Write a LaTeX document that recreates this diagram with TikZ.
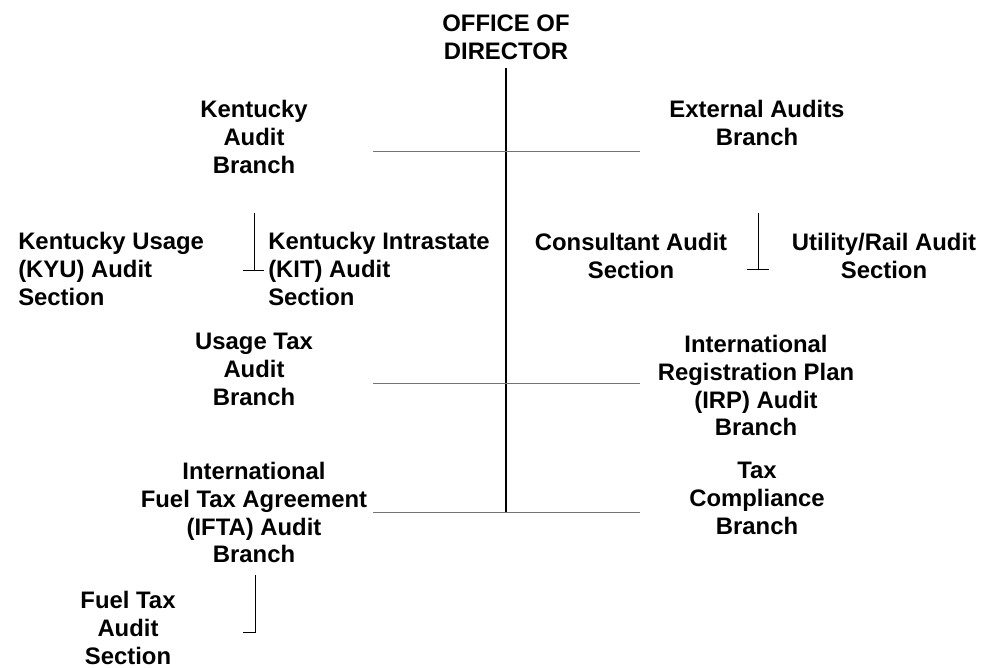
\documentclass[tikz,border=0pt]{standalone}
\usepackage{fontspec}
\setmainfont{Liberation Sans}
\usetikzlibrary{positioning}

\begin{document}
\begin{tikzpicture}[x=0.75pt, y=-0.75pt,
  unit/.style={font=\bfseries\fontsize{17.9}{20.8}\selectfont, align=center, anchor=north, inner sep=0pt},
  section/.style={unit, align=left, anchor=north west},
  bar/.style={draw=black!55, line width=0.75pt},
  tick/.style={draw, line width=0.75pt}]
  \useasboundingbox (0,0) rectangle (986,668);

  % director and trunk
  \node[unit] (director) at (506,15) {OFFICE OF\\DIRECTOR};
  \coordinate (trunk top) at (506,68);
  \coordinate (trunk end) at (506,512);
  \draw[line width=1.5pt] (trunk top) -- (trunk end);

  % branches
  \node[unit] (kab) at (254,100) {Kentucky\\Audit\\Branch};
  \node[unit] (eab) at (757,100) {External Audits\\Branch};
  \node[unit] (utab) at (254,333) {Usage Tax\\Audit\\Branch};
  \node[unit] (irp) at (756,335) {International\\Registration Plan\\(IRP) Audit\\Branch};
  \node[unit] (ifta) at (254,462) {International\\Fuel Tax Agreement\\(IFTA) Audit\\Branch};
  \node[unit] (tcb) at (757,462) {Tax\\Compliance\\Branch};

  % sections
  \node[section] (kyu) at (18,232) {Kentucky Usage\\(KYU) Audit\\Section};
  \node[section] (kit) at (268,232) {Kentucky Intrastate\\(KIT) Audit\\Section};
  \node[unit] (cas) at (631,233) {Consultant Audit\\Section};
  \node[unit] (ura) at (884,233) {Utility/Rail Audit\\Section};
  \node[unit] (ftas) at (128,591) {Fuel Tax\\Audit\\Section};

  % cross bars on the trunk
  \foreach \n/\y in {kab/151, utab/383, ifta/512} {
    \coordinate (\n w) at (373,\y);
    \coordinate (\n e) at (640,\y);
    \draw[bar] (\n w) -- (\n e);
  }

  % section ticks
  \coordinate (kit top) at (254,213);
  \coordinate (kit foot) at (254,270);
  \draw[tick] (kit top) -- (kit foot);
  \draw[tick] (kit foot) ++(-11,0) -- ++(21,0);

  \coordinate (ura top) at (758,213);
  \coordinate (ura foot) at (758,269);
  \draw[tick] (ura top) -- (ura foot);
  \draw[tick] (ura foot) ++(-11,0) -- ++(22,0);

  \coordinate (ftas top) at (255,575);
  \coordinate (ftas foot) at (255,632);
  \draw[tick] (ftas top) -- (ftas foot) -- ++(-12,0);

\end{tikzpicture}
\end{document}
